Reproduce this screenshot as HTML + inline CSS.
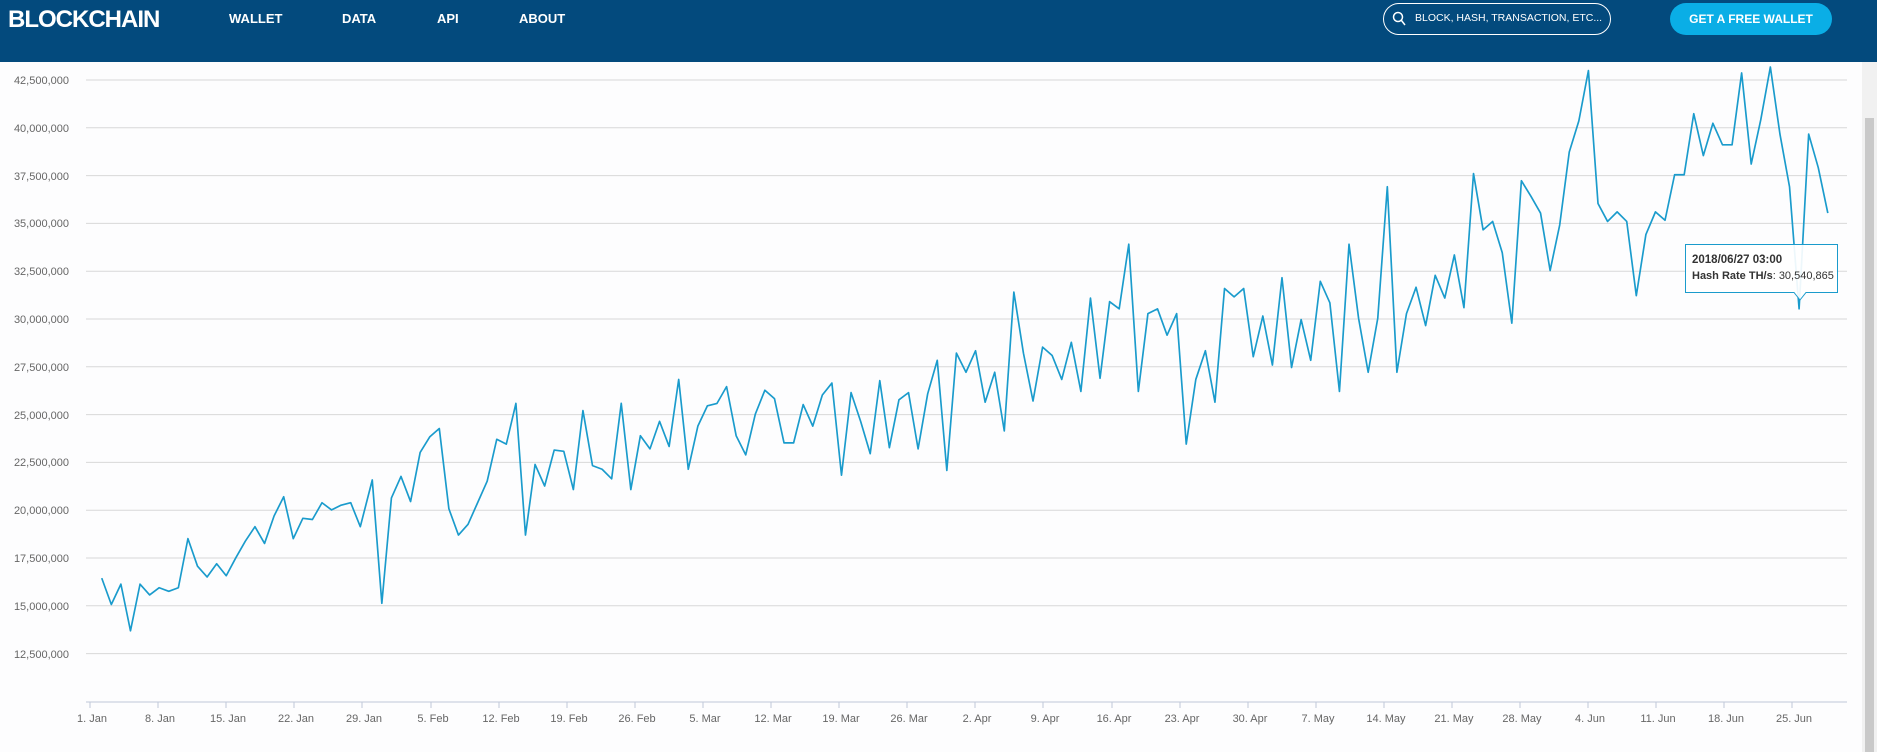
<!DOCTYPE html>
<html><head><meta charset="utf-8"><style>
body{margin:0;width:1877px;height:752px;overflow:hidden;background:#fdfdfe;font-family:"Liberation Sans",sans-serif;position:relative}
#hdr{position:absolute;left:0;top:0;width:1877px;height:62px;background:#034a7d}
.t{position:absolute;color:#fff;font-weight:bold}
</style></head><body>
<div id="hdr">
<div class="t" style="left:8px;top:6px;font-size:24px;letter-spacing:-1px">BLOCKCHAIN</div>
<div class="t" style="left:229px;top:11px;font-size:13px">WALLET</div>
<div class="t" style="left:342px;top:11px;font-size:13px">DATA</div>
<div class="t" style="left:437px;top:11px;font-size:13px">API</div>
<div class="t" style="left:519px;top:11px;font-size:13px">ABOUT</div>
<div style="position:absolute;left:1383px;top:3px;width:226px;height:30px;border:1px solid #fff;border-radius:16px"></div>
<svg style="position:absolute;left:1392px;top:11px" width="16" height="16"><circle cx="6" cy="6" r="4.5" stroke="#fff" stroke-width="1.5" fill="none"/><line x1="9.5" y1="9.5" x2="13" y2="14" stroke="#fff" stroke-width="1.5"/></svg>
<div class="t" style="left:1415px;top:12px;font-size:10.5px;font-weight:normal">BLOCK, HASH, TRANSACTION, ETC...</div>
<div style="position:absolute;left:1670px;top:3px;width:162px;height:32px;background:#0aaee6;border-radius:16px"></div>
<div class="t" style="left:1670px;top:12px;width:162px;text-align:center;font-size:12px">GET A FREE WALLET</div>
</div>
<div style="position:absolute;left:1862px;top:62px;width:15px;height:690px;background:#f1f1f1"></div>
<div style="position:absolute;left:1865px;top:118px;width:9px;height:634px;background:#c9c9c9"></div>
<svg style="position:absolute;left:0;top:0" width="1860" height="752" font-family="Liberation Sans, sans-serif">
<g stroke="#d8d8d8" stroke-width="1">
<line x1="86" x2="1847" y1="80" y2="80"/><line x1="86" x2="1847" y1="127.8" y2="127.8"/><line x1="86" x2="1847" y1="175.6" y2="175.6"/><line x1="86" x2="1847" y1="223.4" y2="223.4"/><line x1="86" x2="1847" y1="271.2" y2="271.2"/><line x1="86" x2="1847" y1="319" y2="319"/><line x1="86" x2="1847" y1="366.8" y2="366.8"/><line x1="86" x2="1847" y1="414.6" y2="414.6"/><line x1="86" x2="1847" y1="462.4" y2="462.4"/><line x1="86" x2="1847" y1="510.2" y2="510.2"/><line x1="86" x2="1847" y1="558" y2="558"/><line x1="86" x2="1847" y1="605.8" y2="605.8"/><line x1="86" x2="1847" y1="653.6" y2="653.6"/>
</g>
<line x1="86" x2="1847" y1="702" y2="702" stroke="#c0c8d8"/>
<g fill="#666" font-size="11" text-anchor="end">
<text x="69" y="84">42,500,000</text><text x="69" y="132">40,000,000</text><text x="69" y="180">37,500,000</text><text x="69" y="227">35,000,000</text><text x="69" y="275">32,500,000</text><text x="69" y="323">30,000,000</text><text x="69" y="371">27,500,000</text><text x="69" y="419">25,000,000</text><text x="69" y="466">22,500,000</text><text x="69" y="514">20,000,000</text><text x="69" y="562">17,500,000</text><text x="69" y="610">15,000,000</text><text x="69" y="658">12,500,000</text>
</g>
<g stroke="#c0c8d8">
<line x1="90" x2="90" y1="702" y2="708"/><line x1="158" x2="158" y1="702" y2="708"/><line x1="226" x2="226" y1="702" y2="708"/><line x1="294" x2="294" y1="702" y2="708"/><line x1="362" x2="362" y1="702" y2="708"/><line x1="431" x2="431" y1="702" y2="708"/><line x1="499" x2="499" y1="702" y2="708"/><line x1="567" x2="567" y1="702" y2="708"/><line x1="635" x2="635" y1="702" y2="708"/><line x1="703" x2="703" y1="702" y2="708"/><line x1="771" x2="771" y1="702" y2="708"/><line x1="839" x2="839" y1="702" y2="708"/><line x1="907" x2="907" y1="702" y2="708"/><line x1="975" x2="975" y1="702" y2="708"/><line x1="1043" x2="1043" y1="702" y2="708"/><line x1="1112" x2="1112" y1="702" y2="708"/><line x1="1180" x2="1180" y1="702" y2="708"/><line x1="1248" x2="1248" y1="702" y2="708"/><line x1="1316" x2="1316" y1="702" y2="708"/><line x1="1384" x2="1384" y1="702" y2="708"/><line x1="1452" x2="1452" y1="702" y2="708"/><line x1="1520" x2="1520" y1="702" y2="708"/><line x1="1588" x2="1588" y1="702" y2="708"/><line x1="1656" x2="1656" y1="702" y2="708"/><line x1="1724" x2="1724" y1="702" y2="708"/><line x1="1792" x2="1792" y1="702" y2="708"/>
</g>
<g fill="#666" font-size="11" text-anchor="middle">
<text x="92" y="722">1. Jan</text><text x="160" y="722">8. Jan</text><text x="228" y="722">15. Jan</text><text x="296" y="722">22. Jan</text><text x="364" y="722">29. Jan</text><text x="433" y="722">5. Feb</text><text x="501" y="722">12. Feb</text><text x="569" y="722">19. Feb</text><text x="637" y="722">26. Feb</text><text x="705" y="722">5. Mar</text><text x="773" y="722">12. Mar</text><text x="841" y="722">19. Mar</text><text x="909" y="722">26. Mar</text><text x="977" y="722">2. Apr</text><text x="1045" y="722">9. Apr</text><text x="1114" y="722">16. Apr</text><text x="1182" y="722">23. Apr</text><text x="1250" y="722">30. Apr</text><text x="1318" y="722">7. May</text><text x="1386" y="722">14. May</text><text x="1454" y="722">21. May</text><text x="1522" y="722">28. May</text><text x="1590" y="722">4. Jun</text><text x="1658" y="722">11. Jun</text><text x="1726" y="722">18. Jun</text><text x="1794" y="722">25. Jun</text>
</g>
<g transform="scale(1.197)">
<polyline fill="none" stroke="#1a9bcc" stroke-width="1.4" stroke-linejoin="round" points="85,483 93,505 101,488 109,527 117,488 125,497 133,491 141,494 149,491 157,450 165,473 173,482 181,471 189,481 197,466 205,452 213,440 221,454 229,431 237,415 245,450 253,433 261,434 269,420 277,426 285,422 293,420 301,440 311,401 319,504 327,416 335,398 343,419 351,378 359,365 367,358 375,425 383,447 391,438 399,420 407,402 415,367 423,371 431,337 439,447 447,388 455,406 463,376 471,377 479,409 487,343 495,389 503,392 511,400 519,337 527,409 535,364 543,375 551,352 559,373 567,317 575,392 583,356 591,339 599,337 607,323 615,364 623,380 631,346 639,326 647,333 655,370 663,370 671,338 679,356 687,330 695,320 703,397 711,328 719,352 727,379 735,318 743,374 751,334 759,328 767,375 775,329 783,301 791,393 799,295 807,311 815,293 823,336 831,311 839,360 847,244 855,295 863,335 871,290 879,297 887,317 895,286 903,327 911,249 919,316 927,252 935,258 943,204 951,327 959,262 967,258 975,280 983,262 991,371 999,317 1007,293 1015,336 1023,241 1031,248 1039,241 1047,298 1055,264 1063,305 1071,232 1079,307 1087,267 1095,301 1103,235 1111,253 1119,327 1127,204 1135,266 1143,311 1151,266 1159,156 1167,311 1175,262 1183,240 1191,272 1199,230 1207,249 1215,213 1223,257 1231,145 1239,192 1247,185 1255,211 1263,270 1271,151 1279,164 1287,178 1295,226 1303,188 1311,127 1319,101 1327,59 1335,170 1343,185 1351,177 1359,185 1367,247 1375,196 1383,177 1391,184 1399,146 1407,146 1415,95 1423,130 1431,103 1439,121 1447,121 1455,61 1463,137 1471,100 1479,56 1487,112 1495,156 1503,258 1511,112 1519,140 1527,178"/>
</g>
<path d="M1685.5,244.5 H1837.5 V292.5 H1806 L1800,300 L1794,292.5 H1685.5 Z" fill="#fff" fill-opacity="0.92" stroke="#1a9bcc"/>
<text x="1692" y="263" font-size="11.5" font-weight="bold" fill="#333">2018/06/27 03:00</text>
<text x="1692" y="279" font-size="11" fill="#333"><tspan font-weight="bold">Hash Rate TH/s</tspan>: 30,540,865</text>
</svg>
</body></html>
